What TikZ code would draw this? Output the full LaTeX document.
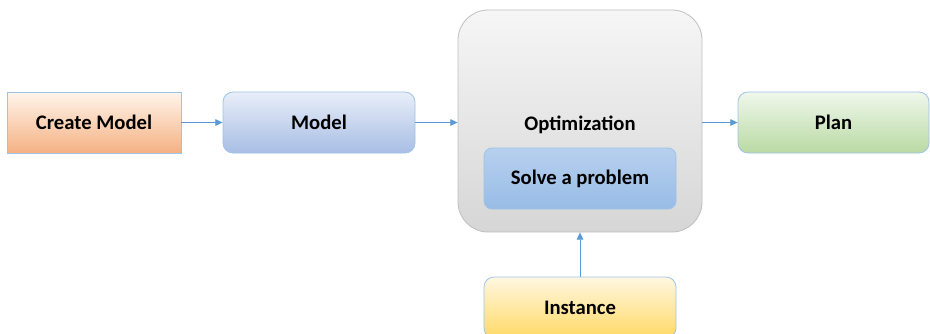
\documentclass[tikz,border=0pt]{standalone}
\usepackage{fontspec}
\setmainfont{Carlito}
\usetikzlibrary{arrows.meta, positioning}
\definecolor{edgeblue}{RGB}{157,195,230}
\definecolor{flowblue}{RGB}{91,155,213}

\begin{document}
\begin{tikzpicture}[x=0.75pt, y=-0.75pt,
    box/.style={draw=edgeblue, line width=0.6pt, align=center,
                font=\fontsize{15.5}{18}\selectfont\bfseries,
                minimum width=144pt, minimum height=45.75pt, rounded corners=7.5pt},
    flow/.style={draw=flowblue, line width=0.7pt, -{Triangle[width=5pt,length=5.5pt]}}]
  \useasboundingbox (0,0) rectangle (930,333);
  % blocks
  \node[box, rounded corners=0pt, minimum width=130.5pt, top color=orange!8, bottom color={rgb,255:red,244;green,177;blue,131}]
    (create) at (94,122.5) {Create Model};
  \node[box, top color={rgb,255:red,232;green,238;blue,249}, bottom color={rgb,255:red,168;green,190;blue,228}]
    (model) at (319,122.5) {Model};
  \node[box, draw={rgb,255:red,191;green,191;blue,191}, rounded corners=22.5pt, minimum width=183pt, minimum height=166.5pt,
        top color={rgb,255:red,246;green,246;blue,246}, bottom color={rgb,255:red,214;green,214;blue,214}]
    (opt) at (580,121) {};
  \node[font=\fontsize{15.5}{18}\selectfont\bfseries] (optlabel) at (580,124.5) {Optimization};
  \node[box, rounded corners=6pt, top color={rgb,255:red,183;green,208;blue,238}, bottom color={rgb,255:red,152;green,188;blue,230}]
    (solve) at (580,178.5) {Solve a problem};
  \node[box, minimum width=143.25pt, top color={rgb,255:red,240;green,247;blue,236}, bottom color={rgb,255:red,185;green,218;blue,163}]
    (plan) at (833.5,122.5) {Plan};
  \node[box, top color={rgb,255:red,255;green,248;blue,225}, bottom color={rgb,255:red,255;green,217;blue,102}]
    (instance) at (580,307.5) {Instance};
  % connectors
  \draw[flow] (create) -- (model);
  \draw[flow] (model) -- (opt.west |- model);
  \draw[flow] (opt.east |- plan) -- (plan);
  \draw[flow] (instance) -- (opt);
\end{tikzpicture}
\end{document}
